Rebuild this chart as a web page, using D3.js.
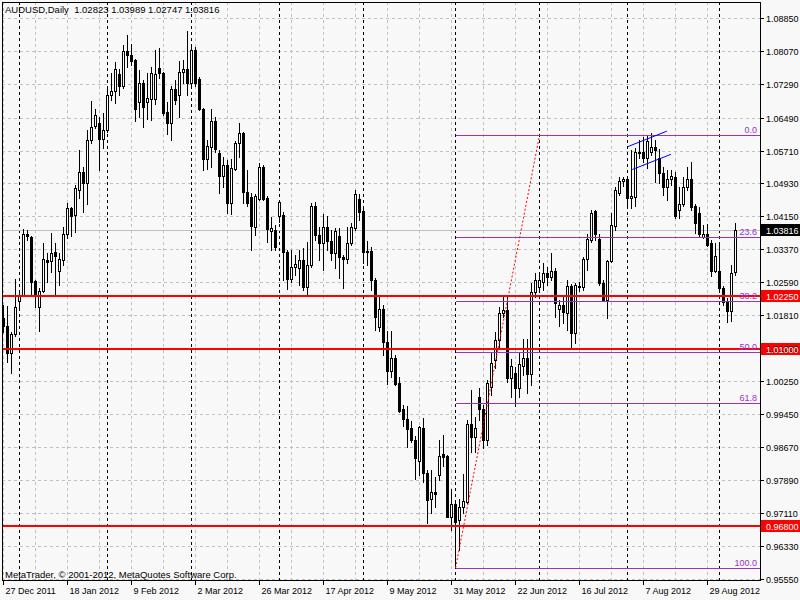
<!DOCTYPE html>
<html><head><meta charset="utf-8">
<script src="https://cdn.jsdelivr.net/npm/d3@7"></script>
<style>
html,body{margin:0;padding:0;background:#f8f8f8;}
svg{display:block;font-family:"Liberation Sans",Arial,sans-serif;}
</style></head><body>
<svg id="c" width="800" height="600"></svg>
<script>
const symbol = "AUDUSD,Daily";
const firstDate = "2011-12-27";
const open = [1.0173,1.0154,1.0091,1.0135,1.0214,1.0229,1.0374,1.0366,1.0261,1.0200,1.0238,1.0311,1.0309,1.0330,1.0286,1.0311,1.0374,1.0434,1.0418,1.0477,1.0521,1.0493,1.0596,1.0629,1.0636,1.0598,1.0620,1.0702,1.0712,1.0753,1.0724,1.0807,1.0797,1.0786,1.0686,1.0732,1.0687,1.0694,1.0694,1.0766,1.0754,1.0662,1.0636,1.0718,1.0704,1.0757,1.0764,1.0731,1.0810,1.0741,1.0669,1.0550,1.0580,1.0642,1.0564,1.0511,1.0536,1.0447,1.0528,1.0590,1.0612,1.0473,1.0461,1.0390,1.0457,1.0533,1.0458,1.0380,1.0382,1.0416,1.0417,1.0330,1.0267,1.0295,1.0292,1.0311,1.0248,1.0299,1.0439,1.0370,1.0352,1.0389,1.0357,1.0328,1.0368,1.0319,1.0313,1.0351,1.0386,1.0457,1.0427,1.0332,1.0333,1.0264,1.0151,1.0194,1.0117,1.0048,1.0078,1.0019,0.9957,0.9933,0.9912,0.9885,0.9835,0.9912,0.9806,0.9743,0.9760,0.9800,0.9850,0.9846,0.9702,0.9732,0.9695,0.9724,0.9737,0.9923,0.9892,0.9986,0.9957,0.9884,1.0010,1.0074,1.0121,1.0186,1.0192,1.0030,1.0042,1.0008,1.0059,1.0078,1.0040,1.0235,1.0246,1.0258,1.0280,1.0271,1.0284,1.0195,1.0205,1.0186,1.0249,1.0138,1.0249,1.0246,1.0313,1.0359,1.0427,1.0362,1.0256,1.0216,1.0308,1.0392,1.0471,1.0498,1.0503,1.0458,1.0461,1.0568,1.0568,1.0553,1.0568,1.0580,1.0553,1.0517,1.0485,1.0503,1.0509,1.0431,1.0444,1.0485,1.0503,1.0439,1.0422,1.0366,1.0374,1.0351,1.0286,1.0286,1.0244,1.0212,1.0191,1.02823];
const high = [1.0204,1.0202,1.0140,1.0266,1.0240,1.0384,1.0382,1.0368,1.0264,1.0245,1.0351,1.0328,1.0375,1.0351,1.0328,1.0390,1.0446,1.0437,1.0489,1.0572,1.0533,1.0620,1.0689,1.0670,1.0651,1.0661,1.0719,1.0754,1.0780,1.0765,1.0822,1.0846,1.0824,1.0789,1.0762,1.0738,1.0754,1.0770,1.0810,1.0814,1.0757,1.0686,1.0724,1.0738,1.0783,1.0786,1.0854,1.0817,1.0817,1.0746,1.0672,1.0596,1.0669,1.0651,1.0572,1.0555,1.0549,1.0552,1.0594,1.0636,1.0615,1.0526,1.0470,1.0468,1.0542,1.0537,1.0463,1.0414,1.0394,1.0453,1.0425,1.0335,1.0335,1.0323,1.0335,1.0340,1.0355,1.0446,1.0449,1.0390,1.0420,1.0416,1.0382,1.0387,1.0387,1.0323,1.0390,1.0399,1.0477,1.0469,1.0432,1.0356,1.0342,1.0268,1.0224,1.0204,1.0142,1.0143,1.0086,1.0033,0.9967,0.9964,0.9929,0.9893,0.9917,0.9936,0.9813,0.9813,0.9797,0.9885,0.9896,0.9848,0.9767,0.9741,0.9745,0.9803,0.9931,1.0002,0.9938,1.0007,0.9967,1.0026,1.0090,1.0141,1.0200,1.0224,1.0224,1.0077,1.0058,1.0090,1.0123,1.0123,1.0257,1.0281,1.0283,1.0303,1.0295,1.0328,1.0292,1.0216,1.0224,1.0264,1.0254,1.0256,1.0259,1.0319,1.0374,1.0430,1.0430,1.0372,1.0264,1.0311,1.0423,1.0485,1.0509,1.0509,1.0511,1.0572,1.0577,1.0596,1.0602,1.0609,1.0612,1.0596,1.0574,1.0533,1.0525,1.0526,1.0520,1.0485,1.0509,1.0533,1.0544,1.0444,1.0436,1.0394,1.0397,1.0359,1.0352,1.0351,1.0249,1.0221,1.0299,1.03989];
const low = [1.0140,1.0069,1.0043,1.0131,1.0192,1.0226,1.0359,1.0228,1.0200,1.0143,1.0235,1.0259,1.0283,1.0230,1.0252,1.0299,1.0363,1.0368,1.0378,1.0458,1.0426,1.0444,1.0589,1.0624,1.0526,1.0577,1.0615,1.0691,1.0683,1.0702,1.0719,1.0770,1.0773,1.0640,1.0651,1.0628,1.0646,1.0643,1.0681,1.0743,1.0655,1.0610,1.0596,1.0681,1.0651,1.0731,1.0703,1.0719,1.0724,1.0667,1.0526,1.0527,1.0533,1.0568,1.0471,1.0484,1.0423,1.0420,1.0525,1.0556,1.0447,1.0439,1.0335,1.0370,1.0454,1.0454,1.0355,1.0335,1.0335,1.0401,1.0264,1.0242,1.0259,1.0275,1.0251,1.0240,1.0228,1.0294,1.0359,1.0311,1.0287,1.0335,1.0311,1.0292,1.0268,1.0245,1.0304,1.0347,1.0382,1.0406,1.0304,1.0299,1.0240,1.0145,1.0143,1.0086,1.0018,1.0033,1.0014,0.9950,0.9917,0.9868,0.9880,0.9792,0.9801,0.9785,0.9687,0.9710,0.9724,0.9790,0.9822,0.9700,0.9670,0.9580,0.9623,0.9710,0.9734,0.9856,0.9856,0.9931,0.9865,0.9872,0.9991,1.0054,1.0101,1.0177,1.0022,0.9985,0.9965,0.9987,1.0038,0.9995,1.0014,1.0223,1.0240,1.0240,1.0252,1.0264,1.0177,1.0154,1.0161,1.0145,1.0104,1.0113,1.0238,1.0240,1.0287,1.0354,1.0359,1.0252,1.0214,1.0174,1.0306,1.0382,1.0465,1.0487,1.0434,1.0434,1.0439,1.0553,1.0544,1.0529,1.0560,1.0497,1.0493,1.0465,1.0454,1.0489,1.0410,1.0410,1.0439,1.0477,1.0430,1.0376,1.0366,1.0363,1.0344,1.0273,1.0283,1.0240,1.0204,1.0165,1.0166,1.02747];
const close = [1.0154,1.0091,1.0135,1.0200,1.0229,1.0374,1.0368,1.0259,1.0228,1.0238,1.0313,1.0306,1.0328,1.0321,1.0313,1.0374,1.0434,1.0416,1.0481,1.0521,1.0493,1.0596,1.0628,1.0656,1.0598,1.0620,1.0702,1.0712,1.0765,1.0724,1.0807,1.0797,1.0783,1.0670,1.0731,1.0674,1.0695,1.0756,1.0753,1.0754,1.0661,1.0636,1.0718,1.0691,1.0757,1.0764,1.0731,1.0810,1.0731,1.0669,1.0550,1.0582,1.0642,1.0574,1.0511,1.0536,1.0447,1.0530,1.0588,1.0612,1.0473,1.0447,1.0392,1.0463,1.0533,1.0457,1.0385,1.0386,1.0341,1.0449,1.0330,1.0267,1.0295,1.0302,1.0311,1.0248,1.0299,1.0439,1.0370,1.0352,1.0389,1.0357,1.0328,1.0381,1.0318,1.0313,1.0352,1.0389,1.0469,1.0426,1.0331,1.0330,1.0264,1.0177,1.0194,1.0117,1.0048,1.0078,1.0018,0.9953,0.9933,0.9911,0.9885,0.9841,0.9914,0.9806,0.9741,0.9760,0.9756,0.9847,0.9844,0.9702,0.9732,0.9690,0.9725,0.9740,0.9923,0.9892,0.9912,0.9957,0.9884,1.0019,1.0067,1.0121,1.0186,1.0192,1.0030,1.0059,1.0008,1.0064,1.0078,1.0040,1.0235,1.0264,1.0264,1.0280,1.0271,1.0284,1.0208,1.0205,1.0188,1.0249,1.0137,1.0252,1.0247,1.0313,1.0360,1.0423,1.0373,1.0256,1.0216,1.0308,1.0395,1.0477,1.0499,1.0503,1.0458,1.0463,1.0568,1.0564,1.0553,1.0593,1.0579,1.0572,1.0517,1.0485,1.0503,1.0511,1.0416,1.0444,1.0485,1.0503,1.0437,1.0400,1.0374,1.0374,1.0347,1.0286,1.0321,1.0244,1.0212,1.0191,1.0281,1.03816];

const priceTicks = [1.08850,1.08070,1.07290,1.06490,1.05710,1.04930,1.04150,1.03370,1.02590,1.01810,1.01030,1.00250,0.99450,0.98670,0.97890,0.97110,0.96330,0.95550];
const dateTickLabels = ["27 Dec 2011","18 Jan 2012","9 Feb 2012","2 Mar 2012","26 Mar 2012","17 Apr 2012","9 May 2012","31 May 2012","22 Jun 2012","16 Jul 2012","7 Aug 2012","29 Aug 2012"];
const levelLines = [1.02250, 1.01000, 0.96800];
const fibLevels = [0, 23.6, 38.2, 50, 61.8, 100];
const fibHigh = 1.0607, fibLow = 0.9580;
const fibFromBar = 113, fibToBar = 134;
const channelUpper = [[156, 1.0580], [165.85, 1.0617]];
const channelLower = [[157.2, 1.0526], [166.85, 1.0562]];
const copyright = "MetaTrader, \u00a9 2001-2012, MetaQuotes Software Corp.";

// trading days (Mon-Fri) for each bar
const dates = [];
{ let d = new Date(firstDate + "T00:00:00");
  while (dates.length < open.length) {
    const wd = d.getDay();
    if (wd !== 0 && wd !== 6) dates.push(new Date(d));
    d.setDate(d.getDate() + 1);
  } }
const fmtDate = d3.timeFormat("%-d %b %Y");

const svg = d3.select("#c");
const L = 2, R = 760, T = 2, B = 580;
const n = open.length;
const x = d3.scaleLinear().domain([0, n - 1]).range([3.5, 3.5 + 4 * (n - 1)]);
const y = d3.scaleLinear().domain([0.95516, 1.09236]).range([580, 2]);
const py = p => Math.round(y(p)) + 0.5;

svg.append("rect").attr("width", 800).attr("height", 600).attr("fill", "#f8f8f8");
const gGrid = svg.append("g").attr("shape-rendering", "crispEdges");

gGrid.selectAll("line.h").data(priceTicks).join("line")
  .attr("x1", L).attr("x2", R).attr("y1", d => py(d)).attr("y2", d => py(d))
  .attr("stroke", "#c0c0c0").attr("stroke-dasharray", "3,3");
const vIdx = d3.range(0, n, 8);
gGrid.selectAll("line.v").data(vIdx).join("line")
  .attr("x1", d => x(d)).attr("x2", d => x(d)).attr("y1", T).attr("y2", B)
  .attr("stroke", "#c0c0c0").attr("stroke-dasharray", "3,3");
const sepIdx = d3.range(1, n).filter(i => dates[i].getMonth() !== dates[i - 1].getMonth());
gGrid.selectAll("line.s").data(sepIdx).join("line")
  .attr("x1", d => x(d)).attr("x2", d => x(d)).attr("y1", T).attr("y2", B)
  .attr("stroke", "#000").attr("stroke-dasharray", "3,3");
gGrid.append("line").attr("x1", L).attr("x2", R)
  .attr("y1", py(close[n - 1])).attr("y2", py(close[n - 1])).attr("stroke", "#c0c0c0");

// candles
const bars = d3.range(n).map(i => ({ i, o: open[i], h: high[i], l: low[i], c: close[i] }));
const gC = svg.append("g").attr("shape-rendering", "crispEdges");
gC.selectAll("line.w").data(bars).join("line")
  .attr("x1", d => x(d.i)).attr("x2", d => x(d.i))
  .attr("y1", d => Math.round(y(d.h))).attr("y2", d => Math.round(y(d.l)) + 1)
  .attr("stroke", "#000");
gC.selectAll("rect.b").data(bars).join("rect")
  .attr("x", d => x(d.i) - 1.5).attr("width", 3)
  .attr("y", d => Math.round(y(Math.max(d.o, d.c))))
  .attr("height", d => Math.max(1, Math.round(y(Math.min(d.o, d.c))) - Math.round(y(Math.max(d.o, d.c))) + 1))
  .attr("fill", "#000");
gC.selectAll("rect.in").data(bars.filter(d => d.c > d.o)).join("rect")
  .attr("x", d => x(d.i) - 0.5).attr("width", 1)
  .attr("y", d => Math.round(y(d.c)) + 1)
  .attr("height", d => Math.max(0, Math.round(y(d.o)) - Math.round(y(d.c)) - 1))
  .attr("fill", "#fff");

// objects
const gO = svg.append("g").attr("shape-rendering", "crispEdges");
const fibColor = "#9932cc";
const fibPrice = lv => fibHigh - (fibHigh - fibLow) * lv / 100;
gO.selectAll("line.f").data(fibLevels).join("line")
  .attr("x1", x(fibFromBar)).attr("x2", R)
  .attr("y1", d => py(fibPrice(d))).attr("y2", d => py(fibPrice(d)))
  .attr("stroke", fibColor);
gO.selectAll("line.r").data(levelLines).join("line")
  .attr("x1", L).attr("x2", R)
  .attr("y1", d => Math.round(y(d))).attr("y2", d => Math.round(y(d)))
  .attr("stroke", "#ff0000").attr("stroke-width", 2);
svg.append("line").attr("x1", x(fibFromBar)).attr("y1", y(fibLow))
  .attr("x2", x(fibToBar)).attr("y2", y(fibHigh))
  .attr("stroke", "#ff0000").attr("stroke-dasharray", "2,2");
[channelUpper, channelLower].forEach(seg => {
  svg.append("line")
    .attr("x1", x(seg[0][0])).attr("y1", y(seg[0][1]))
    .attr("x2", x(seg[1][0])).attr("y2", y(seg[1][1]))
    .attr("stroke", "#0000ff");
});
svg.selectAll("text.f").data(fibLevels).join("text")
  .attr("x", 757).attr("y", d => Math.round(y(fibPrice(d))) - 2)
  .attr("text-anchor", "end").attr("font-size", 9).attr("fill", fibColor)
  .text(d => d3.format(".1f")(d));

// frame
const gF = svg.append("g").attr("shape-rendering", "crispEdges");
gF.append("rect").attr("x", L + 0.5).attr("y", T + 0.5).attr("width", R - L).attr("height", B - T)
  .attr("fill", "none").attr("stroke", "#000");

// right price axis
const fmtP = d3.format(".5f");
gF.selectAll("line.t").data(priceTicks).join("line")
  .attr("x1", R + 1).attr("x2", R + 4).attr("y1", d => py(d)).attr("y2", d => py(d)).attr("stroke", "#000");
svg.selectAll("text.p").data(priceTicks).join("text")
  .attr("x", 766).attr("y", d => Math.round(y(d)) + 4).attr("font-size", 9).attr("fill", "#000")
  .text(d => fmtP(d));
const badges = levelLines.map(p => ({ p, bg: "#ff0000" })).concat([{ p: close[n - 1], bg: "#000" }]);
gF.selectAll("rect.bd").data(badges).join("rect")
  .attr("x", R + 1).attr("y", d => Math.round(y(d.p)) - 6).attr("width", 39).attr("height", 12)
  .attr("fill", d => d.bg);
svg.selectAll("text.bd").data(badges).join("text")
  .attr("x", 766).attr("y", d => Math.round(y(d.p)) + 4).attr("font-size", 9).attr("fill", "#fff")
  .text(d => fmtP(d.p));

// date axis
const dateIdx = dateTickLabels.map(lbl => dates.findIndex(d => fmtDate(d) === lbl));
gF.selectAll("line.dt").data(dateIdx).join("line")
  .attr("x1", d => x(d)).attr("x2", d => x(d)).attr("y1", B).attr("y2", B + 5).attr("stroke", "#000");
svg.selectAll("text.dt").data(dateIdx).join("text")
  .attr("x", d => x(d) + 2).attr("y", 594).attr("font-size", 9).attr("fill", "#000")
  .text((d, k) => dateTickLabels[k]);

// header and copyright
const hdr = [open[n - 1], high[n - 1], low[n - 1], close[n - 1]].map(fmtP);
svg.append("text").attr("x", 5).attr("y", 13).attr("font-size", 9.5).attr("fill", "#000")
  .attr("xml:space", "preserve").style("white-space", "pre")
  .text(symbol + "  " + hdr.join(" "));
svg.append("text").attr("x", 5).attr("y", 578).attr("font-size", 9.5).attr("fill", "#000").text(copyright);
</script>
</body></html>
